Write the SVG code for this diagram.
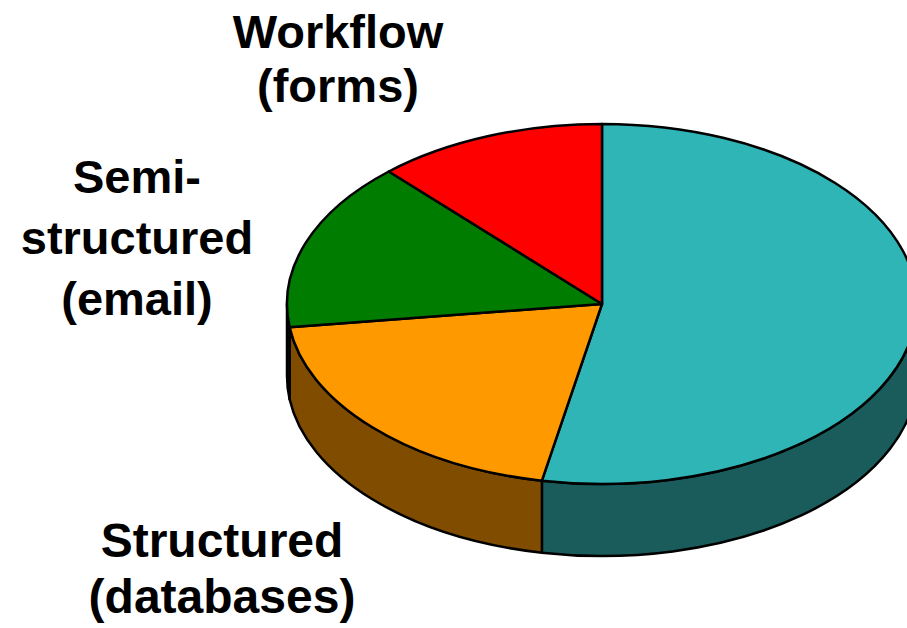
<svg xmlns="http://www.w3.org/2000/svg" width="907" height="628" viewBox="0 0 907 628">
  <style>
    .edge { stroke: #000; stroke-width: 2.5; stroke-linejoin: round; }
    .label { font-family: "Liberation Sans", Arial, sans-serif; font-weight: bold; fill: #000; text-anchor: middle; }
  </style>
  <rect width="907" height="628" fill="#fff"/>

  <!-- Pie: centre (602,304), rx 315, ry 180, depth 72 -->
  <g id="pie-sides">
    <!-- teal side, t = 0..101 -->
    <path class="edge" fill="#1A5C5C" d="M917,304 A315,180 0 0 1 541.9,480.7 L541.9,552.7 A315,180 0 0 0 917,376 Z"/>
    <!-- orange side, t = 101..172.6 -->
    <path class="edge" fill="#804C00" d="M541.9,480.7 A315,180 0 0 1 289.6,327.2 L289.6,399.2 A315,180 0 0 0 541.9,552.7 Z"/>
    <!-- green side, t = 172.6..180 -->
    <path class="edge" fill="#004000" d="M289.6,327.2 A315,180 0 0 1 287,304 L287,376 A315,180 0 0 0 289.6,399.2 Z"/>
  </g>

  <g id="slice-teal">
    <path class="edge" fill="#2FB5B5" d="M602,304 L602,124 A315,180 0 1 1 541.9,480.7 Z"/>
  </g>

  <g id="structured">
    <path class="edge" fill="#FF9900" d="M602,304 L541.9,480.7 A315,180 0 0 1 289.6,327.2 Z"/>
    <text class="label" x="222" y="557" font-size="48">Structured</text>
    <text class="label" x="222" y="613" font-size="48">(databases)</text>
  </g>

  <g id="semi-structured">
    <path class="edge" fill="#007C00" d="M602,304 L289.6,327.2 A315,180 0 0 1 388.8,171.5 Z"/>
    <text class="label" x="137" y="193" font-size="47">Semi-</text>
    <text class="label" x="137" y="254" font-size="47">structured</text>
    <text class="label" x="137" y="315" font-size="47">(email)</text>
  </g>

  <g id="workflow">
    <path class="edge" fill="#FF0000" d="M602,304 L388.8,171.5 A315,180 0 0 1 602,124 Z"/>
    <text class="label" x="338" y="48" font-size="47">Workflow</text>
    <text class="label" x="338" y="102" font-size="47">(forms)</text>
  </g>
</svg>
